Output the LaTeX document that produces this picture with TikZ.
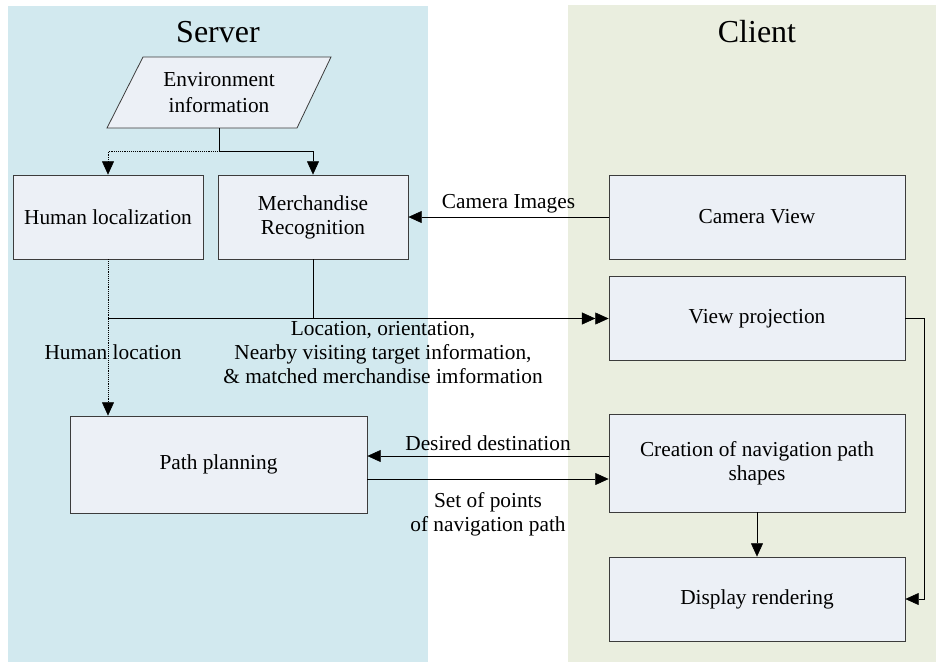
\documentclass[tikz,border=0pt]{standalone}
\usepackage{fontspec}
\setmainfont{Liberation Serif}
\usetikzlibrary{arrows.meta}
\definecolor{serverbg}{RGB}{210,233,239}
\definecolor{clientbg}{RGB}{234,238,223}
\definecolor{boxfill}{RGB}{236,240,246}
\definecolor{boxline}{RGB}{60,60,60}

\begin{document}
\begin{tikzpicture}[x=0.75pt,y=-0.75pt,>={Triangle[length=10pt,width=9pt]},font=\fontsize{16}{18}\selectfont,
  box/.style={draw=boxline,fill=boxfill,line width=0.6pt,align=center,inner sep=2pt},
  small/.style={box,minimum width=142.5pt,minimum height=63pt},
  wide/.style={box,minimum width=222pt,minimum height=63pt},
  lbl/.style={align=center,inner sep=1pt},
  title/.style={font=\fontsize{24}{28}\selectfont}]
  \useasboundingbox (0,0) rectangle (936,662);
  % the two sides
  \fill[serverbg] (8,6) rectangle (428,662);
  \fill[clientbg] (568,5) rectangle (936,662);
  \node[title] (srv) at (218,32) {Server};
  \node[title] (cli) at (757,32) {Client};
  % environment input
  \draw[draw=boxline,fill=boxfill,line width=0.6pt] (143,57) -- (331,57) -- (297,128) -- (107,128) -- cycle;
  \node[align=center,minimum height=53.25pt,font=\fontsize{16}{19}\selectfont] (env) at (219,92.5) {Environment\\information};
  % server blocks
  \node[small] (hloc) at (108,217) {Human localization};
  \node[small] (merch) at (313,217) {Merchandise\\Recognition};
  \node[box,minimum width=222.75pt,minimum height=72.75pt] (plan) at (218.5,464.5) {Path planning};
  % client blocks
  \node[wide] (cam) at (757,217) {Camera View};
  \node[wide] (proj) at (757,318.5) {View projection};
  \node[box,minimum width=222pt,minimum height=73.5pt] (shape) at (757,463) {Creation of navigation path\\shapes};
  \node[wide] (disp) at (757,599) {Display rendering};
  % from the environment
  \coordinate (split) at (219,151);
  \draw[->,densely dotted] (env.south) -- (split) -| (hloc.north);
  \draw[->] (env.south) -- (split) -| (merch.north);
  % camera images
  \draw[->] (cam.west) -- (merch.east) node[lbl,midway,above,yshift=2pt] {Camera Images};
  % location and recognition results
  \draw[->,densely dotted] (hloc.south) -- (hloc.south |- plan.north);
  \coordinate (hjoin) at (hloc.south |- proj.west);
  \draw[->>] (hjoin) -- (proj.west);
  \draw (merch.south) -- (merch.south |- proj.west);
  \node[lbl] (hlab) at (113,352) {Human location};
  \node[lbl] (info) at (383,353) {Location, orientation,\\Nearby visiting target information,\\\& matched merchandise imformation};
  % planning loop
  \path ([yshift=5.25pt]shape.west) coordinate (ddR);
  \path ([yshift=-12pt]shape.west) coordinate (spR);
  \draw[->] (ddR) -- (ddR -| plan.east) node[lbl,midway,above,yshift=3pt] {Desired destination};
  \draw[->] (spR -| plan.east) -- (spR) node[lbl,midway,below,yshift=-9pt] {Set of points\\of navigation path};
  % rendering
  \draw[->] (shape.south) -- (disp.north);
  \draw[->] (proj.east) -- ++(19,0) |- (disp.east);
\end{tikzpicture}
\end{document}
